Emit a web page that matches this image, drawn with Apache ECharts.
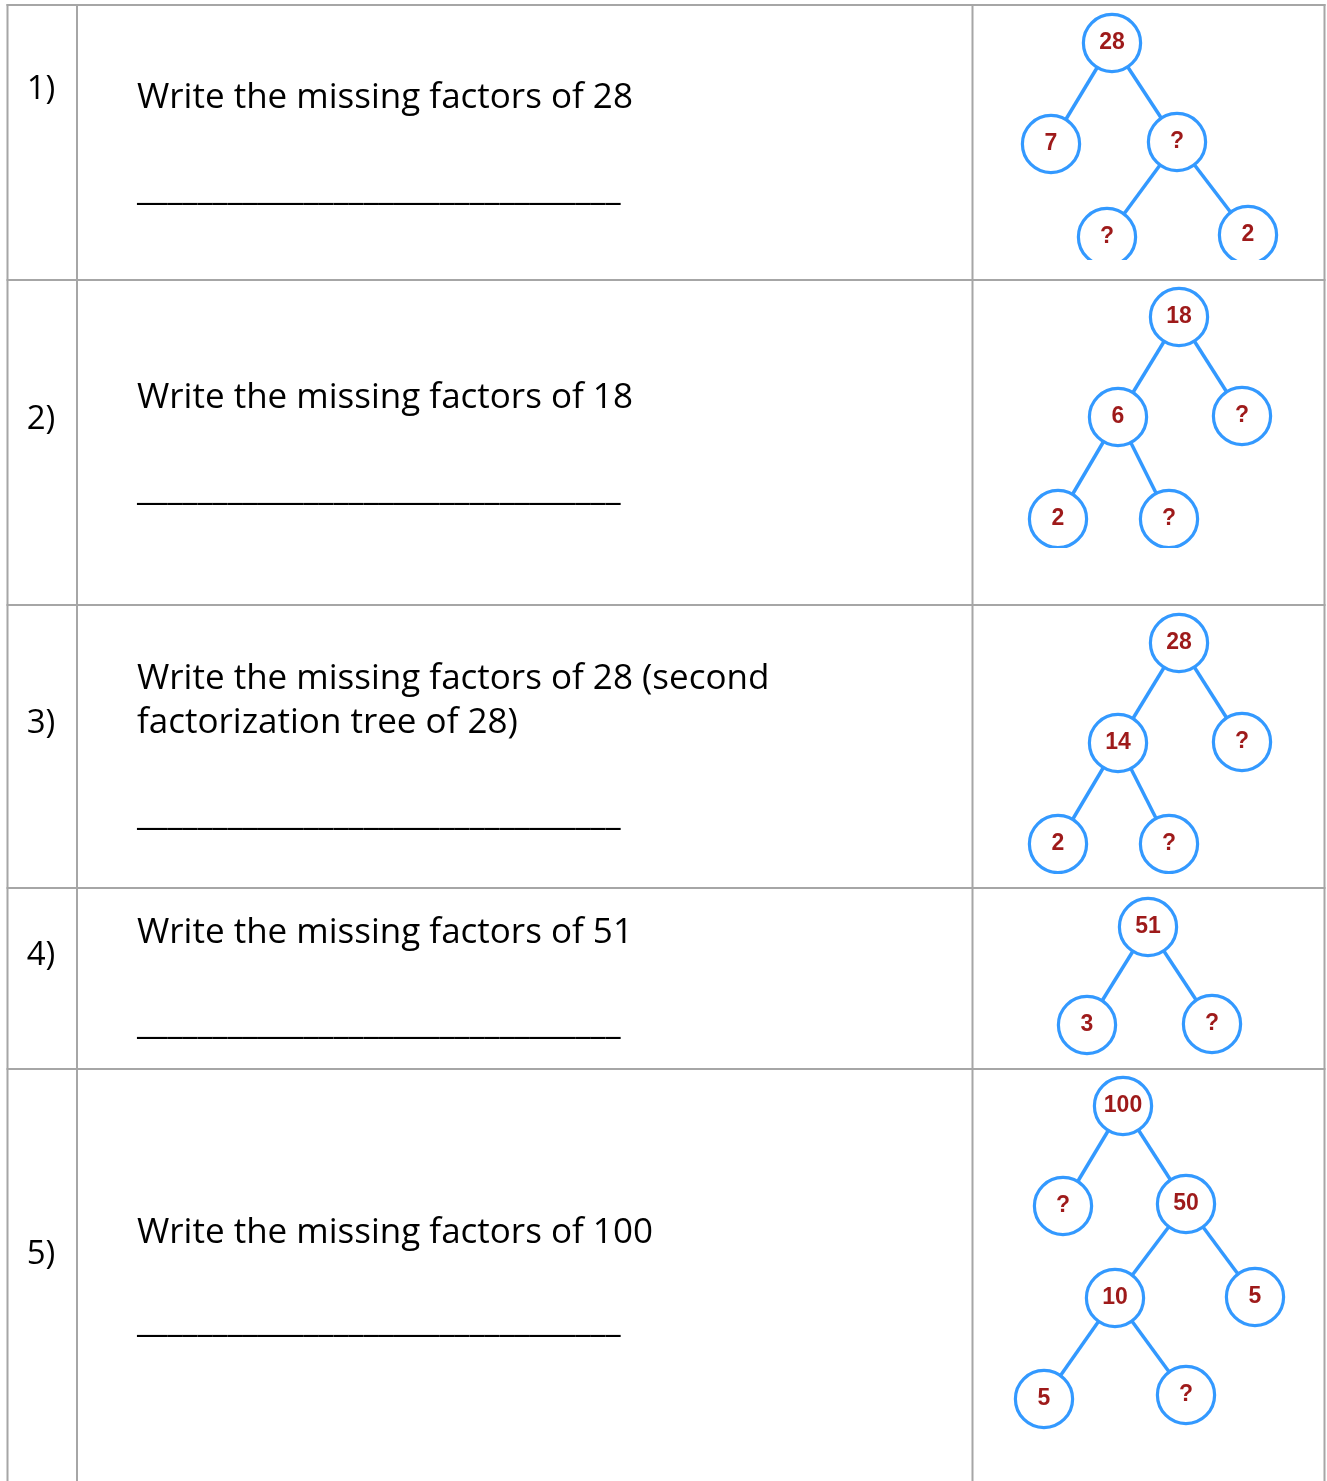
<!DOCTYPE html>
<html><head><meta charset="utf-8">
<script src="https://cdn.jsdelivr.net/npm/echarts@6/dist/echarts.min.js"></script>
<style>html,body{margin:0;padding:0;background:#fff}#c{width:1327px;height:1481px}</style>
</head><body><div id="c"></div>
<script>
// ---- table text ----
const rowNumbers = ['1)', '2)', '3)', '4)', '5)'];
const questions = [
  ['Write the missing factors of 28'],
  ['Write the missing factors of 18'],
  ['Write the missing factors of 28 (second', 'factorization tree of 28)'],
  ['Write the missing factors of 51'],
  ['Write the missing factors of 100']
];
const answerBlank = '________________________________';

// ---- factor trees: node labels, positions (px), parent index ----
const tree1Labels = ['28', '7', '?', '?', '2'];
const tree1X = [1112, 1051, 1177, 1107, 1248];
const tree1Y = [43, 144, 142, 237, 235];
const tree1Parent = [-1, 0, 0, 2, 2];

const tree2Labels = ['18', '6', '?', '2', '?'];
const tree2X = [1179, 1118, 1242, 1058, 1169];
const tree2Y = [317, 417, 416, 519, 519];
const tree2Parent = [-1, 0, 0, 1, 1];

const tree3Labels = ['28', '14', '?', '2', '?'];
const tree3X = [1179, 1118, 1242, 1058, 1169];
const tree3Y = [643, 743, 742, 844, 844];
const tree3Parent = [-1, 0, 0, 1, 1];

const tree4Labels = ['51', '3', '?'];
const tree4X = [1148, 1087, 1212];
const tree4Y = [927, 1025, 1024];
const tree4Parent = [-1, 0, 0];

const tree5Labels = ['100', '?', '50', '10', '5', '5', '?'];
const tree5X = [1123, 1063, 1186, 1115, 1255, 1044, 1186];
const tree5Y = [1106, 1206, 1204, 1298, 1297, 1399, 1395];
const tree5Parent = [-1, 0, 0, 2, 2, 3, 3];

// ---- layout ----
const rowTops = [5, 280, 605, 888, 1069];
const pageBottom = 1481;
const colX = [7.5, 77, 972.5, 1324.5];
const numberY = [90, 420, 724, 956, 1255];
const questionY = [98, 398, 679, 933, 1233];
const lineGap = 44;
const blankY = [190, 490, 815, 1024, 1322];
// image clip boxes of each tree [left, top, right, bottom]
const clipBoxes = [
  [975, 8, 1279, 260],
  [975, 283, 1273, 548],
  [975, 608, 1273, 874],
  [975, 891, 1243, 1057],
  [1013, 1072, 1287, 1431]
];

const trees = [
  [tree1Labels, tree1X, tree1Y, tree1Parent],
  [tree2Labels, tree2X, tree2Y, tree2Parent],
  [tree3Labels, tree3X, tree3Y, tree3Parent],
  [tree4Labels, tree4X, tree4Y, tree4Parent],
  [tree5Labels, tree5X, tree5Y, tree5Parent]
];

const BLUE = '#3399ff';
const RED = '#9e1a1a';
const GRID_LINE = '#a6a6a6';
const FONT = '"Open Sans"';
const TEXT_SIZE = 35;

const grids = [], xAxes = [], yAxes = [], series = [];
trees.forEach(([labels, xs, ys, parents], i) => {
  const [l, t, r, b] = clipBoxes[i];
  grids.push({ left: l, top: t, width: r - l, height: b - t, containLabel: false });
  xAxes.push({ type: 'value', gridIndex: i, min: l, max: r, show: false });
  yAxes.push({ type: 'value', gridIndex: i, min: t, max: b, inverse: true, show: false });
  const edges = [];
  parents.forEach((p, k) => {
    if (p >= 0) edges.push({ coords: [[xs[p], ys[p]], [xs[k], ys[k]]] });
  });
  series.push({
    type: 'lines', coordinateSystem: 'cartesian2d', xAxisIndex: i, yAxisIndex: i,
    data: edges, clip: true, z: 2, silent: true,
    lineStyle: { color: BLUE, width: 3.5, opacity: 1 }
  });
  series.push({
    type: 'custom', xAxisIndex: i, yAxisIndex: i, clip: true, z: 3, silent: true,
    encode: { x: 0, y: 1 },
    data: xs.map((x, k) => [x, ys[k]]),
    renderItem: (params, api) => {
      const p = api.coord([api.value(0), api.value(1)]);
      return {
        type: 'group',
        children: [
          { type: 'circle', shape: { cx: p[0], cy: p[1], r: 28.6 },
            style: { fill: '#fff', stroke: BLUE, lineWidth: 3.2 } },
          { type: 'text',
            style: { text: labels[params.dataIndex], x: p[0], y: p[1],
                     textAlign: 'center', textVerticalAlign: 'middle',
                     font: 'bold 23px "Liberation Sans"', fill: RED } }
        ]
      };
    }
  });
});

const graphic = [];
// table borders
const lineStyle = { stroke: GRID_LINE, lineWidth: 2 };
rowTops.forEach(y => graphic.push({ type: 'line', shape: { x1: colX[0] - 1, y1: y, x2: colX[3] + 1, y2: y }, style: lineStyle, z: 10 }));
colX.forEach(x => graphic.push({ type: 'line', shape: { x1: x, y1: rowTops[0] - 1, x2: x, y2: pageBottom }, style: lineStyle, z: 10 }));
// texts
rowNumbers.forEach((t, i) => graphic.push({
  type: 'text', style: { text: t, x: 41, y: numberY[i], font: '33px ' + FONT, fill: '#000', textAlign: 'center', textVerticalAlign: 'middle' }, z: 10
}));
questions.forEach((lines, i) => {
  lines.forEach((t, j) => graphic.push({
    type: 'text', style: { text: t, x: 137, y: questionY[i] + j * lineGap, font: TEXT_SIZE + 'px ' + FONT, fill: '#000', textAlign: 'left', textVerticalAlign: 'middle' }, z: 10
  }));
  graphic.push({
    type: 'text', style: { text: answerBlank, x: 137, y: blankY[i], font: '34.5px ' + FONT, fill: '#000', textAlign: 'left', textVerticalAlign: 'middle' }, z: 10
  });
});

const chart = echarts.init(document.getElementById('c'), null, { renderer: 'canvas' });
chart.setOption({
  animation: false,
  backgroundColor: '#fff',
  grid: grids, xAxis: xAxes, yAxis: yAxes,
  series: series,
  graphic: graphic
});
</script></body></html>
